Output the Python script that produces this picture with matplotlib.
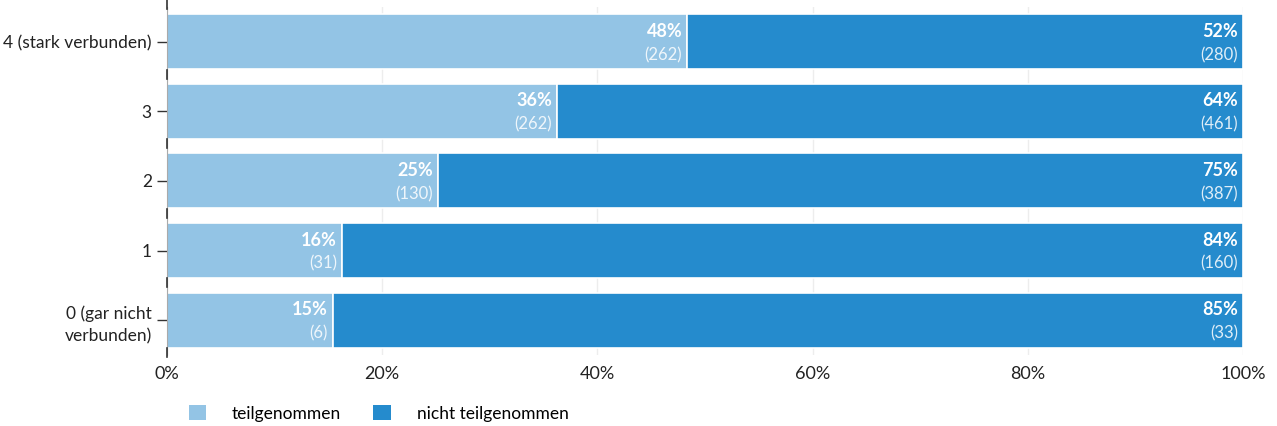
import numpy as np
import matplotlib.pyplot as plt
from matplotlib.patches import Patch

plt.rcParams['font.family'] = ['Lato', 'DejaVu Sans']

## Data

categories = ['0 (gar nicht\nverbunden)', '1', '2', '3', '4 (stark verbunden)']
teilgenommen = np.array([6, 31, 130, 262, 262])
nicht_teilgenommen = np.array([33, 160, 387, 461, 280])
series_names = ['teilgenommen', 'nicht teilgenommen']
colors = ['#93c4e5', '#258bcd']

## Shares per row

total = teilgenommen + nicht_teilgenommen
share_a = teilgenommen / total * 100
share_b = nicht_teilgenommen / total * 100

fig = plt.figure(figsize=(12.77, 4.26), dpi=100)
ax = fig.add_axes([0.1308, 0.1667, 0.8426, 0.8169])

y = np.arange(len(categories))
h = 0.79
ax.barh(y, share_a, height=h, color=colors[0], edgecolor='white', linewidth=1.2, zorder=2)
ax.barh(y, share_b, left=share_a, height=h, color=colors[1], edgecolor='white', linewidth=1.2, zorder=2)

## Value labels at the right end of each segment

for i in range(len(categories)):
    for right, pct, n in [(share_a[i], share_a[i], teilgenommen[i]),
                          (share_a[i] + share_b[i], share_b[i], nicht_teilgenommen[i])]:
        ax.text(right - 0.45, y[i] + 0.15, '%d%%' % round(pct), color='white',
                fontsize=13, fontweight='bold', ha='right', va='center', zorder=4)
        ax.text(right - 0.45, y[i] - 0.19, '(%d)' % n, color='white', alpha=0.85,
                fontsize=12, ha='right', va='center', zorder=4)

ax.set_xlim(0, 100)
ax.set_ylim(-0.5, len(categories) - 0.5)
ax.set_xticks(np.arange(0, 101, 20))
ax.set_xticklabels(['%d%%' % v for v in range(0, 101, 20)], fontsize=13, color='#222222')
ax.set_yticks(y)
ax.set_yticklabels(categories, fontsize=12.5, color='#222222', linespacing=1.5)

ax.grid(axis='x', color='#888888', alpha=0.15, linewidth=1, zorder=3)
ax.tick_params(axis='x', length=0, pad=8)
ax.tick_params(axis='y', length=7, width=1, color='#333333', pad=4)

for s in ['top', 'right', 'bottom']:
    ax.spines[s].set_visible(False)
ax.spines['left'].set_color('#aaaaaa')
ax.spines['left'].set_zorder(5)

## Dark marks on the left axis between the rows
for b in np.arange(-0.5, len(categories), 1.0):
    ax.plot([0, 0], [b - 0.03, b + 0.1], color='#333333', lw=1.2,
            clip_on=False, zorder=6)

handles = [Patch(facecolor=c) for c in colors]
fig.legend(handles, series_names, loc='center left', bbox_to_anchor=(0.1355, 0.03),
           ncol=2, frameon=False, fontsize=12.5, handlelength=1.0, handleheight=1.0,
           handletextpad=1.5, columnspacing=1.85)

plt.savefig('out.png', dpi=100)
